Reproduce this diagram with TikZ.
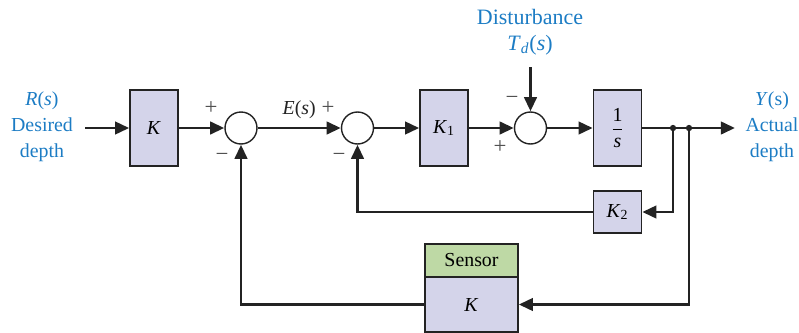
\documentclass[tikz,border=0pt]{standalone}
\usepackage{amsmath}
\usepackage{fontspec}
\setmainfont{Liberation Serif}
\usetikzlibrary{arrows.meta}
\definecolor{lblblue}{RGB}{28,124,196}
\definecolor{boxfill}{RGB}{212,212,234}
\definecolor{sensfill}{RGB}{190,217,165}
\definecolor{linegray}{RGB}{35,35,35}

\begin{document}
\begin{tikzpicture}[x=0.02cm,y=-0.02cm,>={Triangle[length=8pt,width=7pt]},
  font=\fontsize{11.3}{14.7}\selectfont,
  blk/.style={draw=linegray,line width=0.9pt,fill=boxfill,minimum width=0.96cm,minimum height=1.52cm,inner sep=0pt},
  sum/.style={draw=linegray,circle,line width=0.8pt,fill=white,minimum size=0.64cm,inner sep=0pt},
  sig/.style={->,line width=1.7pt,draw=linegray},
  lbl/.style={text=lblblue,align=center},
  sgn/.style={text=linegray!80,font=\fontsize{13}{13}\selectfont}]
  \useasboundingbox (0,0) rectangle (799,332);
  % forward path
  \coordinate (in) at (85,128); \coordinate (out) at (735,128);
  \coordinate (j1) at (673,128); \coordinate (j2) at (689,128);
  \coordinate (dist) at (530.5,67);
  \node[blk] (k) at (154,128) {\textit{K}};
  \node[sum] (s1) at (241,128) {};
  \node[sum] (s2) at (357.5,128) {};
  \node[blk] (k1) at (444,128) {\textit{K}\textsubscript{1}};
  \node[sum] (s3) at (530.5,128) {};
  \node[blk] (g) at (617.5,128) {$\dfrac{\mbox{1}}{\mbox{\textit{s}}}$};
  % feedback blocks
  \node[blk,minimum height=0.84cm] (k2) at (617.5,212) {\textit{K}\textsubscript{2}};
  \node[blk,fill=sensfill,minimum width=1.86cm,minimum height=0.66cm] (sens) at (471.5,260.5) {Sensor};
  \node[blk,minimum width=1.86cm,minimum height=1.1cm] (ks) at (471.5,304.5) {\textit{K}};
  % labels
  \node[lbl] (r) at (42,127) {\textit{R}(\textit{s})\\Desired\\depth};
  \node[lbl] (y) at (772,127) {\textit{Y}(s)\\Actual\\depth};
  \node[lbl,font=\fontsize{12.5}{15}\selectfont] (td) at (530,32) {Disturbance\\\textit{T}\textsubscript{\textit{d}}(\textit{s})};
  % connectors
  \draw[sig] (in) -- (k);
  \draw[sig] (k) -- (s1);
  \draw[sig] (s1) -- node[above,text=linegray,yshift=1pt]{\textit{E}(\textit{s})} (s2);
  \draw[sig] (s2) -- (k1);
  \draw[sig] (k1) -- (s3);
  \draw[sig] (dist) -- (s3.north);
  \draw[sig] (s3) -- (g);
  \draw[sig] (g) -- (out);
  \draw[sig] (j1) |- (k2);
  \draw[sig] (k2) -| (s2);
  \draw[sig] (j2) |- (ks);
  \draw[sig] (ks) -| (s1);
  \fill[linegray] (j1) circle[radius=1.8pt] (j2) circle[radius=1.8pt];
  % signs
  \node[sgn] at (211,108) {+}; \node[sgn] at (222,157) {−};
  \node[sgn] at (328,108) {+}; \node[sgn] at (339,157) {−};
  \node[sgn] at (512,100) {−}; \node[sgn] at (500,147) {+};
\end{tikzpicture}
\end{document}
